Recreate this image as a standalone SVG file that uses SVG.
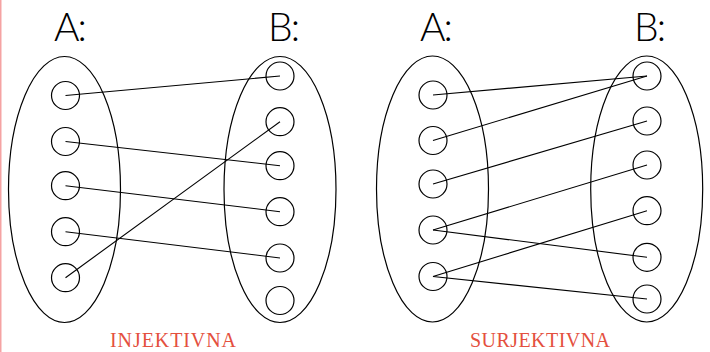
<svg xmlns="http://www.w3.org/2000/svg" width="710" height="352" viewBox="0 0 710 352">
<style>
.set{fill:none;stroke:#000;stroke-width:1.2}
.el{fill:none;stroke:#000;stroke-width:1.2}
.ln{stroke:#000;stroke-width:1.1;fill:none}
.lbl{font-family:Lato,"Liberation Sans",sans-serif;font-weight:300;font-size:39px;letter-spacing:-2px;fill:#000}
.cap{font-family:"Liberation Serif",serif;font-size:20px;fill:#e4503e}
</style>
<rect x="0" y="0" width="709" height="352" fill="#fff"/>
<rect x="0" y="0" width="1.5" height="352" fill="#f5a3a3"/>
<g id="connectors">
<line class="ln" x1="65.5" y1="95.5" x2="280" y2="76"/>
<line class="ln" x1="65.5" y1="141.5" x2="280" y2="165.7"/>
<line class="ln" x1="65.5" y1="185.7" x2="280" y2="211.7"/>
<line class="ln" x1="65.5" y1="231.7" x2="280" y2="258"/>
<line class="ln" x1="65.5" y1="277.7" x2="280" y2="121.7"/>
<line class="ln" x1="433" y1="95" x2="647" y2="76"/>
<line class="ln" x1="433" y1="140.5" x2="647" y2="76"/>
<line class="ln" x1="433" y1="184" x2="647" y2="121"/>
<line class="ln" x1="433" y1="230" x2="647" y2="165"/>
<line class="ln" x1="433" y1="230" x2="647" y2="257.3"/>
<line class="ln" x1="433" y1="276.5" x2="647" y2="210.7"/>
<line class="ln" x1="433" y1="276.5" x2="647" y2="299"/>
</g>
<g id="inj-setA"><ellipse class="set" cx="64.5" cy="189.5" rx="56" ry="133"/><text class="lbl" x="54" y="41">A:</text></g>
<g id="inj-setB"><ellipse class="set" cx="280" cy="189.5" rx="56" ry="133"/><text class="lbl" x="268" y="41">B:</text></g>
<g id="inj-a1"><circle class="el" cx="65.5" cy="95.5" r="14"/></g>
<g id="inj-a2"><circle class="el" cx="65.5" cy="141.5" r="14"/></g>
<g id="inj-a3"><circle class="el" cx="65.5" cy="185.7" r="14"/></g>
<g id="inj-a4"><circle class="el" cx="65.5" cy="231.7" r="14"/></g>
<g id="inj-a5"><circle class="el" cx="65.5" cy="277.7" r="14"/></g>
<g id="inj-b1"><circle class="el" cx="280" cy="76" r="14"/></g>
<g id="inj-b2"><circle class="el" cx="280" cy="121.7" r="14"/></g>
<g id="inj-b3"><circle class="el" cx="280" cy="165.7" r="14"/></g>
<g id="inj-b4"><circle class="el" cx="280" cy="211.7" r="14"/></g>
<g id="inj-b5"><circle class="el" cx="280" cy="258" r="14"/></g>
<g id="inj-b6"><circle class="el" cx="280" cy="300.5" r="14"/></g>
<g id="sur-setA"><ellipse class="set" cx="432.5" cy="189" rx="56" ry="133"/><text class="lbl" x="420" y="41">A:</text></g>
<g id="sur-setB"><ellipse class="set" cx="646.7" cy="189" rx="56" ry="133"/><text class="lbl" x="634" y="41">B:</text></g>
<g id="sur-a1"><circle class="el" cx="433" cy="95" r="14"/></g>
<g id="sur-a2"><circle class="el" cx="433" cy="140.5" r="14"/></g>
<g id="sur-a3"><circle class="el" cx="433" cy="184" r="14"/></g>
<g id="sur-a4"><circle class="el" cx="433" cy="230" r="14"/></g>
<g id="sur-a5"><circle class="el" cx="433" cy="276.5" r="14"/></g>
<g id="sur-b1"><circle class="el" cx="647" cy="76" r="14"/></g>
<g id="sur-b2"><circle class="el" cx="647" cy="121" r="14"/></g>
<g id="sur-b3"><circle class="el" cx="647" cy="165" r="14"/></g>
<g id="sur-b4"><circle class="el" cx="647" cy="210.7" r="14"/></g>
<g id="sur-b5"><circle class="el" cx="647" cy="257.3" r="14"/></g>
<g id="sur-b6"><circle class="el" cx="647" cy="299" r="14"/></g>
<g id="captions">
<text class="cap" x="110" y="347" textLength="126" lengthAdjust="spacing">INJEKTIVNA</text>
<text class="cap" x="470" y="347" textLength="140" lengthAdjust="spacing">SURJEKTIVNA</text>
</g>
</svg>
